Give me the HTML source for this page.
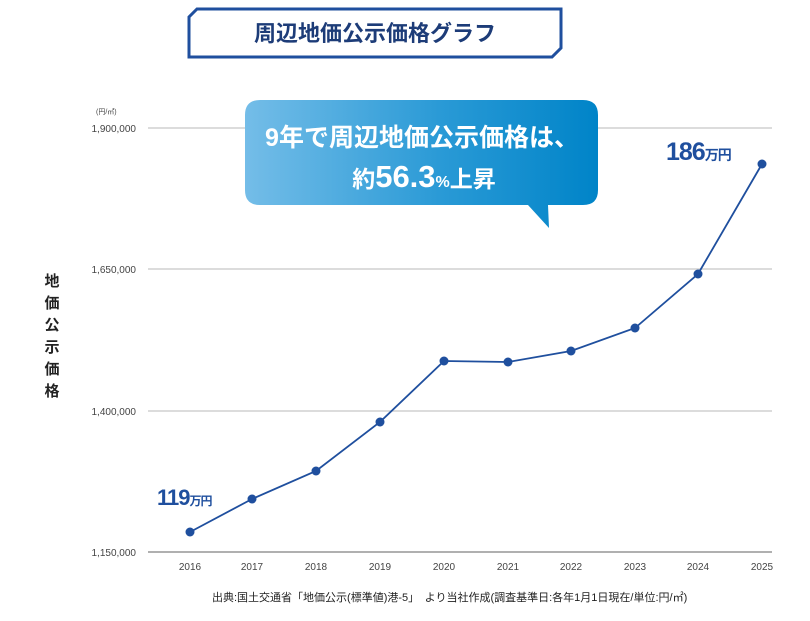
<!DOCTYPE html>
<html><head><meta charset="utf-8"><style>
body{margin:0;background:#fff;}
svg text{font-family:"Liberation Sans","Noto Sans CJK JP",sans-serif;}
</style></head><body>
<svg width="810" height="616" viewBox="0 0 810 616" xmlns="http://www.w3.org/2000/svg">
<defs>
<linearGradient id="g" x1="0" x2="1" y1="0" y2="0">
<stop offset="0" stop-color="#74bde8"/><stop offset="0.55" stop-color="#2a9ad6"/><stop offset="1" stop-color="#0084c8"/>
</linearGradient>
</defs>
<path d="M197,9 L561,9 L561,48 L552,57 L189,57 L189,17 Z" fill="#fff" stroke="#1f4f9e" stroke-width="3"/>
<text x="375" y="41" text-anchor="middle" font-size="22" font-weight="bold" fill="#1d3c78">周辺地価公示価格グラフ</text>
<g stroke="#c8c8c8" stroke-width="1.3">
<line x1="148" y1="128" x2="772" y2="128"/>
<line x1="148" y1="269" x2="772" y2="269"/>
<line x1="148" y1="411" x2="772" y2="411"/>
</g>
<line x1="148" y1="552" x2="772" y2="552" stroke="#b0b0b0" stroke-width="2"/>
<g font-size="10" fill="#444" text-anchor="end">
<text x="136" y="132">1,900,000</text>
<text x="136" y="273">1,650,000</text>
<text x="136" y="415">1,400,000</text>
<text x="136" y="556">1,150,000</text>
</g>
<text x="96" y="114" font-size="7" fill="#444">(円/㎡)</text>
<g font-size="15" font-weight="bold" fill="#222" text-anchor="middle">
<text x="52" y="286">地</text><text x="52" y="308">価</text><text x="52" y="330">公</text><text x="52" y="352">示</text><text x="52" y="374">価</text><text x="52" y="396">格</text>
</g>
<g font-size="10" fill="#444" text-anchor="middle">
<text x="190" y="570">2016</text><text x="252" y="570">2017</text><text x="316" y="570">2018</text><text x="380" y="570">2019</text><text x="444" y="570">2020</text><text x="508" y="570">2021</text><text x="571" y="570">2022</text><text x="635" y="570">2023</text><text x="698" y="570">2024</text><text x="762" y="570">2025</text>
</g>
<text x="212" y="601" font-size="11" fill="#222">出典:国土交通省「地価公示(標準値)港-5」　より当社作成(調査基準日:各年1月1日現在/単位:円/㎡)</text>
<polyline points="190,532 252,499 316,471 380,422 444,361 508,362 571,351 635,328 698,274 762,164" fill="none" stroke="#1f4f9e" stroke-width="1.8"/>
<g fill="#1f4f9e">
<circle cx="190" cy="532" r="4.5"/><circle cx="252" cy="499" r="4.5"/><circle cx="316" cy="471" r="4.5"/><circle cx="380" cy="422" r="4.5"/><circle cx="444" cy="361" r="4.5"/><circle cx="508" cy="362" r="4.5"/><circle cx="571" cy="351" r="4.5"/><circle cx="635" cy="328" r="4.5"/><circle cx="698" cy="274" r="4.5"/><circle cx="762" cy="164" r="4.5"/>
</g>
<text x="157" y="505" font-size="22" font-weight="bold" fill="#1f4f9e" letter-spacing="-1">119<tspan font-size="12">万円</tspan></text>
<text x="666" y="160" font-size="25" font-weight="bold" fill="#1f4f9e" letter-spacing="-1">186<tspan font-size="14">万円</tspan></text>
<path d="M260,100 L583,100 Q598,100 598,115 L598,190 Q598,205 583,205 L548,205 L549,228 L528,205 L260,205 Q245,205 245,190 L245,115 Q245,100 260,100 Z" fill="url(#g)"/>
<text x="422" y="146" text-anchor="middle" font-size="25" font-weight="bold" fill="#fff">9年で周辺地価公示価格は、</text>
<text x="424" y="187" text-anchor="middle" font-size="23" font-weight="bold" fill="#fff">約<tspan font-size="31">56.3</tspan><tspan font-size="16">%</tspan>上昇</text>
</svg>
</body></html>
